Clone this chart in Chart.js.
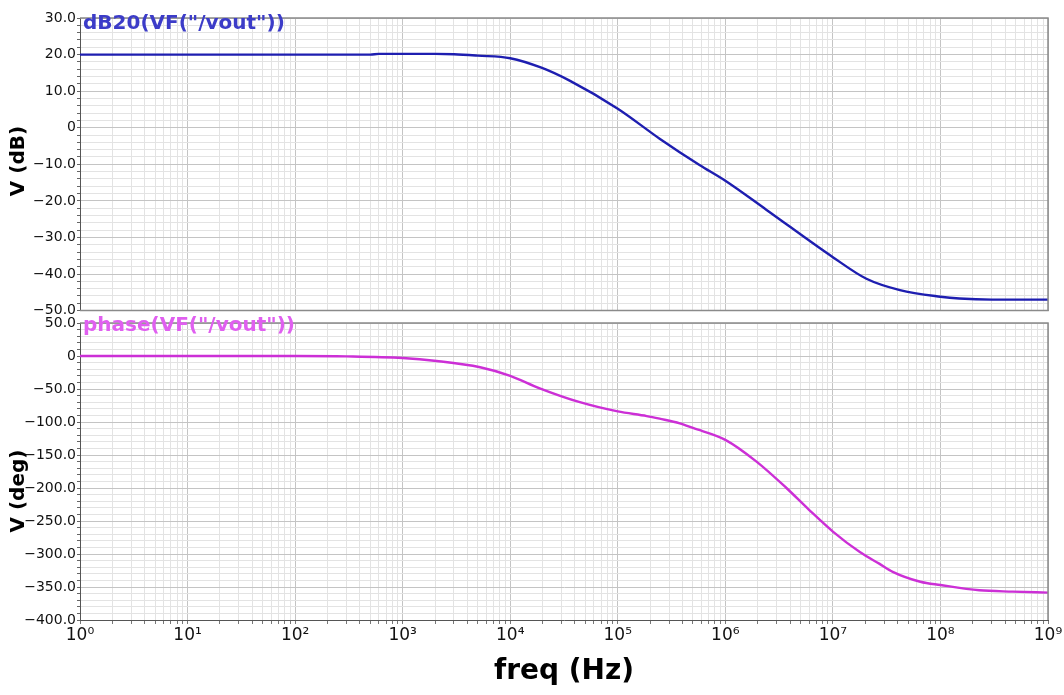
<!DOCTYPE html>
<html>
<head>
<meta charset="utf-8">
<script src="https://cdn.jsdelivr.net/npm/chart.js@4/dist/chart.umd.min.js"></script>
<style>
  html, body { margin: 0; padding: 0; background: #fff; }
  #wrap { position: relative; width: 1064px; height: 695px; overflow: hidden; }
  #wrap canvas { position: absolute; left: 0; }
  #magBox { position: absolute; left: 0; top: 0; width: 1064px; height: 320px; }
  #phaseBox { position: absolute; left: 0; top: 308px; width: 1064px; height: 387px; }
</style>
</head>
<body>
<div id="wrap">
  <div id="magBox"><canvas id="magChart"></canvas></div>
  <div id="phaseBox"><canvas id="phaseChart"></canvas></div>
</div>
<script>
// data
const magFreq = [1, 10, 100, 500, 600, 1000, 2000, 3000, 5000, 1e4, 1.95e4, 3.6e4, 1e5, 2.45e5, 5.75e5, 1e6, 2.4e6, 1e7, 2.05e7, 4.2e7, 1e8, 1.5e8, 3e8, 1e9];
const magDb   = [20.0, 20.0, 20.0, 20.0, 20.2, 20.2, 20.2, 20.1, 19.7, 19.0, 16.4, 12.8, 5.2, -3.0, -10.2, -14.5, -22.4, -35.4, -41.3, -44.4, -46.2, -46.7, -47.0, -47.0];

const phaseFreq = [1, 100, 300, 1000, 2070, 5250, 1e4, 1.88e4, 4.44e4, 1e5, 1.86e5, 2.45e5, 3.77e5, 5e5, 1e6, 1.95e6, 3.7e6, 6e6, 1e7, 1.78e7, 2.72e7, 3.6e7, 6.5e7, 1e8, 2.3e8, 4.7e8, 1e9];
const phaseDeg  = [0, 0, -0.5, -3, -7.5, -17, -30, -49, -70, -84, -91, -95, -102, -109, -127, -160, -200, -233, -266, -297, -315, -327, -342, -347, -355, -357, -358.5];

const decadeLabels = ['10⁰', '10¹', '10²', '10³', '10⁴', '10⁵', '10⁶', '10⁷', '10⁸', '10⁹'];
const magTicks = [-50, -40, -30, -20, -10, 0, 10, 20, 30];
const phaseTicks = [-400, -350, -300, -250, -200, -150, -100, -50, 0, 50];

Chart.defaults.font.family = 'DejaVu Sans';
Chart.defaults.color = '#111';
Chart.defaults.animation = false;

const MAJOR = '#c4c4c4';
const MINOR = '#e3e3e3';

// log axis ticks: 1..9 per decade so every minor grid line is there
function freqTicks(scale) {
  const t = [];
  for (let e = 0; e < decadeLabels.length - 1; e++) {
    for (let k = 1; k <= 9; k++) t.push({ value: k * Math.pow(10, e) });
  }
  t.push({ value: Math.pow(10, decadeLabels.length - 1) });
  scale.ticks = t;
}
function isDecade(v) {
  const l = Math.log10(v);
  return Math.abs(l - Math.round(l)) < 1e-9;
}
function yFmt(v) {
  return v === 0 ? '0' : v.toFixed(1);
}

function xScale(showLabels) {
  return {
    type: 'logarithmic',
    min: 1,
    max: 1e9,
    afterBuildTicks: freqTicks,
    afterFit: s => { s.height = showLabels ? 75 : 0; },
    border: { display: true, color: showLabels ? '#555' : '#999', width: 1 },
    grid: {
      color: c => isDecade(c.tick.value) ? MAJOR : MINOR,
      tickColor: '#777',
      tickLength: showLabels ? 4 : 0,
      drawTicks: showLabels
    },
    ticks: {
      display: showLabels,
      autoSkip: false,
      maxRotation: 0,
      padding: 1,
      font: { size: 17 },
      callback: v => isDecade(v) ? decadeLabels[Math.round(Math.log10(v))] : ''
    },
    title: {
      display: showLabels,
      text: 'freq (Hz)',
      font: { size: 28, weight: 'bold' },
      color: '#000',
      padding: { top: 0, bottom: 6 }
    }
  };
}

function yScale(majors, step) {
  const lo = majors[0], hi = majors[majors.length - 1];
  const major = majors[1] - majors[0];
  return {
    min: lo,
    max: hi,
    afterBuildTicks: s => {
      const t = [];
      for (let v = lo; v <= hi; v += step) t.push({ value: v });
      s.ticks = t;
    },
    afterFit: s => { s.width = 80; },
    border: { display: true, color: '#555', width: 1 },
    grid: {
      color: c => (c.tick.value % major === 0) ? MAJOR : MINOR,
      tickColor: '#666',
      tickLength: 3
    },
    ticks: {
      autoSkip: false,
      padding: 1,
      font: { size: 14 },
      callback: v => (v % major === 0) ? yFmt(v).replace('-', '\u2212') : ''
    }
  };
}

// plot frame and in-plot labels
const framePlugin = {
  id: 'frame',
  afterDraw(chart, args, opts) {
    const a = chart.chartArea, ctx = chart.ctx;
    ctx.save();
    ctx.strokeStyle = '#8a8a8a';
    ctx.lineWidth = 1.5;
    ctx.beginPath();
    ctx.moveTo(a.left, a.top);
    ctx.lineTo(a.right, a.top);
    ctx.lineTo(a.right, a.bottom);
    if (!opts.hasAxis) ctx.lineTo(a.left, a.bottom);
    ctx.stroke();
    ctx.font = 'bold 20px DejaVu Sans';
    ctx.fillStyle = opts.color;
    ctx.textBaseline = 'alphabetic';
    ctx.fillText(opts.label, a.left + 3, a.top + opts.labelDy);
    ctx.translate(opts.yTitleX, opts.yTitleY);
    ctx.rotate(-Math.PI / 2);
    ctx.textAlign = 'center';
    ctx.textBaseline = 'middle';
    ctx.fillStyle = '#000';
    ctx.fillText(opts.yTitle, 0, 0);
    ctx.restore();
  }
};

new Chart(document.getElementById('magChart'), {
  type: 'line',
  data: {
    datasets: [{
      data: magFreq.map((f, i) => ({ x: f, y: magDb[i] })),
      borderColor: '#1e1eb0',
      borderWidth: 2.4,
      pointRadius: 0,
      cubicInterpolationMode: 'monotone'
    }]
  },
  options: {
    responsive: true,
    maintainAspectRatio: false,
    layout: { padding: { left: 0, right: 16, top: 18, bottom: 6 } },
    plugins: {
      legend: { display: false },
      tooltip: { enabled: false },
      frame: { label: 'dB20(VF("/vout"))', color: '#3c3cc8', labelDy: 11, hasAxis: false,
               yTitle: 'V (dB)', yTitleX: 19, yTitleY: 161 }
    },
    scales: { x: xScale(false), y: yScale(magTicks, 2) }
  },
  plugins: [framePlugin]
});

new Chart(document.getElementById('phaseChart'), {
  type: 'line',
  data: {
    datasets: [{
      data: phaseFreq.map((f, i) => ({ x: f, y: phaseDeg[i] })),
      borderColor: '#cc2fd6',
      borderWidth: 2.4,
      pointRadius: 0,
      cubicInterpolationMode: 'monotone'
    }]
  },
  options: {
    responsive: true,
    maintainAspectRatio: false,
    layout: { padding: { left: 0, right: 16, top: 15, bottom: 0 } },
    plugins: {
      legend: { display: false },
      tooltip: { enabled: false },
      frame: { label: 'phase(VF("/vout"))', color: '#e05ff0', labelDy: 8, hasAxis: true,
               yTitle: 'V (deg)', yTitleX: 19, yTitleY: 183 }
    },
    scales: { x: xScale(true), y: yScale(phaseTicks, 10) }
  },
  plugins: [framePlugin]
});
</script>
</body>
</html>
